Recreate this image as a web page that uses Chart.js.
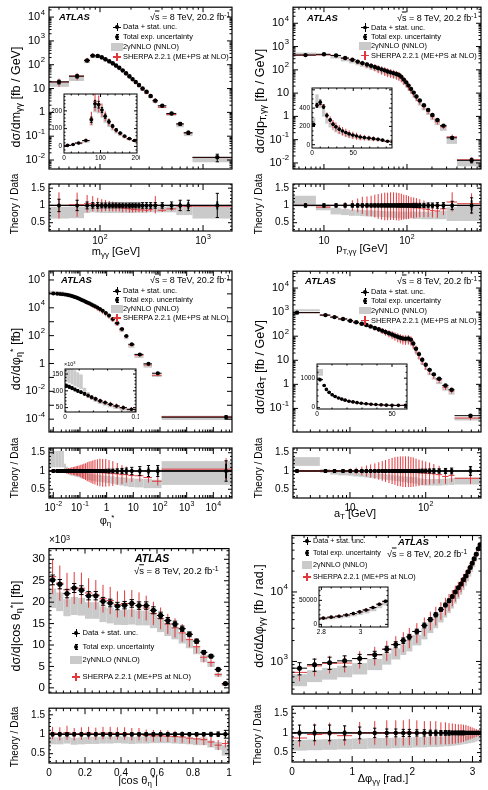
<!DOCTYPE html>
<html>
<head>
<meta charset="utf-8">
<title>ATLAS diphoton differential cross sections</title>
<script src="https://cdn.jsdelivr.net/npm/chart.js@4.4.1/dist/chart.umd.min.js"></script>
<style>
  body { margin: 0; background: #fff; }
  #fig { position: relative; width: 488px; height: 790px; overflow: hidden; background: #fff;
         font-family: "Liberation Sans", Arial, Helvetica, sans-serif; color: #000; }
  #fig canvas { position: absolute; }
  .t { position: absolute; white-space: nowrap; line-height: 1; }
  .t sub { font-size: 72%; vertical-align: -0.3em; line-height: 0; }
  .t sup { font-size: 72%; vertical-align: 0.45em; line-height: 0; }
  .atl { font-weight: bold; font-style: italic; }
  .mk { position: absolute; }
</style>
</head>
<body>
<div id="fig"></div>
<script>
// m_yy
const mggEdges = [0, 20, 30, 50, 70, 80, 90, 100, 108, 118, 128, 138, 148, 160, 172, 186, 200, 214, 230, 248, 270, 296, 324, 364, 440, 550, 650, 790, 1960];
const mggData = [6, 11, 19, 33, 150, 240, 235, 205, 170, 140, 115, 93, 75, 58, 44, 33, 25, 19, 14, 10, 7.3, 4.9, 3.1, 1.9, 0.9, 0.33, 0.14, 0.013];
const mggStat = [0.05, 0.04, 0.03, 0.03, 0.02, 0.015, 0.015, 0.015, 0.015, 0.015, 0.015, 0.02, 0.02, 0.02, 0.02, 0.02, 0.025, 0.025, 0.03, 0.03, 0.035, 0.04, 0.045, 0.05, 0.06, 0.08, 0.1, 0.12];
const mggTot = [0.2, 0.2, 0.18, 0.15, 0.1, 0.08, 0.08, 0.07, 0.07, 0.07, 0.07, 0.07, 0.07, 0.07, 0.07, 0.07, 0.07, 0.07, 0.07, 0.08, 0.08, 0.08, 0.08, 0.08, 0.1, 0.15, 0.15, 0.35];
const mggNnloLo = [0.65, 0.65, 0.62, 0.63, 0.78, 0.8, 0.79, 0.78, 0.78, 0.78, 0.78, 0.78, 0.78, 0.78, 0.78, 0.78, 0.78, 0.79, 0.79, 0.79, 0.79, 0.8, 0.8, 0.8, 0.8, 0.72, 0.72, 0.62];
const mggNnloHi = [0.95, 0.95, 0.96, 0.97, 0.98, 1.0, 0.98, 0.97, 0.97, 0.97, 0.97, 0.97, 0.97, 0.97, 0.97, 0.97, 0.97, 0.97, 0.97, 0.97, 0.97, 0.97, 0.97, 0.97, 0.98, 0.98, 0.98, 0.98];
const mggSherpa = [1, 1, 1.0, 1.02, 1.05, 1.05, 1.02, 1.0, 1.0, 0.98, 0.97, 0.96, 0.95, 0.93, 0.92, 0.9, 0.88, 0.88, 0.87, 0.87, 0.86, 0.88, 1.02, 0.86, 0.9, 0.98, 0.97, 0.98];
const mggSherpaErr = [0.3, 0.3, 0.38, 0.35, 0.25, 0.22, 0.2, 0.18, 0.16, 0.15, 0.14, 0.13, 0.12, 0.12, 0.1, 0.1, 0.08, 0.08, 0.07, 0.07, 0.06, 0.06, 0.25, 0.05, 0.06, 0.15, 0.1, 0.03];

// pT,yy
const pttEdges = [0, 4, 8, 12, 16, 20, 24, 27, 31, 35, 39, 43, 47, 52, 56, 61, 66, 72, 77, 83, 88, 95, 101, 108, 116, 125, 135, 150, 170, 190, 215, 250, 300, 400, 800];
const pttData = [220, 430, 465, 415, 320, 270, 225, 195, 170, 150, 133, 118, 105, 95, 85, 78, 72, 66, 60, 50, 38, 29, 21, 15, 10.5, 7.2, 4.8, 3.0, 1.9, 1.15, 0.7, 0.4, 0.12, 0.013];
const pttStat = [0.03, 0.02, 0.02, 0.02, 0.02, 0.02, 0.02, 0.02, 0.02, 0.02, 0.02, 0.02, 0.02, 0.02, 0.02, 0.02, 0.02, 0.02, 0.02, 0.02, 0.025, 0.025, 0.03, 0.03, 0.03, 0.035, 0.035, 0.04, 0.045, 0.05, 0.06, 0.07, 0.08, 0.15];
const pttTot = [0.06, 0.05, 0.05, 0.05, 0.05, 0.05, 0.05, 0.05, 0.05, 0.05, 0.05, 0.05, 0.05, 0.05, 0.05, 0.05, 0.05, 0.05, 0.05, 0.05, 0.05, 0.05, 0.05, 0.05, 0.06, 0.06, 0.06, 0.06, 0.07, 0.07, 0.08, 0.08, 0.12, 0.22];
const pttNnloLo = [1.0, 0.97, 0.86, 0.74, 0.72, 0.7, 0.7, 0.69, 0.68, 0.68, 0.67, 0.67, 0.66, 0.66, 0.65, 0.65, 0.64, 0.64, 0.63, 0.63, 0.62, 0.62, 0.62, 0.62, 0.61, 0.61, 0.61, 0.6, 0.6, 0.6, 0.6, 0.6, 0.55, 0.55];
const pttNnloHi = [1.35, 1.28, 1.02, 0.93, 0.9, 0.88, 0.88, 0.87, 0.86, 0.86, 0.85, 0.85, 0.84, 0.84, 0.83, 0.83, 0.83, 0.82, 0.82, 0.82, 0.82, 0.82, 0.82, 0.82, 0.82, 0.82, 0.82, 0.82, 0.82, 0.82, 0.83, 0.85, 0.95, 1.0];
const pttSherpa = [1.0, 1.0, 0.95, 1.0, 1.0, 1.0, 1.0, 1.0, 0.98, 0.98, 0.98, 0.97, 0.97, 0.97, 0.97, 0.98, 0.98, 0.97, 0.96, 0.96, 0.95, 0.95, 0.94, 0.94, 0.93, 0.93, 0.92, 0.9, 0.88, 0.85, 0.84, 0.9, 1.1, 1.05];
const pttSherpaErr = [0.05, 0.03, 0.03, 0.06, 0.1, 0.15, 0.2, 0.25, 0.28, 0.3, 0.33, 0.36, 0.38, 0.4, 0.4, 0.4, 0.4, 0.4, 0.4, 0.38, 0.36, 0.35, 0.33, 0.3, 0.3, 0.28, 0.26, 0.24, 0.22, 0.2, 0.2, 0.18, 0.28, 0.3];

// phi*_eta
const phiEdges = [0, 0.004, 0.008, 0.012, 0.016, 0.02, 0.025, 0.03, 0.035, 0.04, 0.046, 0.053, 0.06, 0.068, 0.077, 0.087, 0.1, 0.115, 0.13, 0.15, 0.175, 0.2, 0.24, 0.28, 0.33, 0.4, 0.5, 0.62, 0.8, 1.05, 1.4, 2.0, 3.0, 4.5, 6.5, 11, 24, 50, 115, 60000];
const phiData = [115000, 112000, 108000, 104000, 100000, 96000, 91000, 86000, 81000, 76000, 70000, 65000, 60000, 55000, 50000, 45000, 40000, 35500, 31500, 27500, 24000, 21000, 18000, 15500, 13000, 10500, 8300, 6200, 4300, 2800, 1600, 800, 300, 95, 24, 4.5, 0.95, 0.2, 1.4e-4];
const phiStat = [0.02, 0.02, 0.02, 0.02, 0.02, 0.02, 0.02, 0.02, 0.02, 0.02, 0.02, 0.02, 0.02, 0.02, 0.02, 0.02, 0.02, 0.02, 0.02, 0.02, 0.02, 0.02, 0.02, 0.02, 0.02, 0.02, 0.02, 0.02, 0.02, 0.02, 0.025, 0.03, 0.04, 0.05, 0.06, 0.08, 0.1, 0.12, 0.2];
const phiTot = [0.04, 0.04, 0.04, 0.04, 0.04, 0.04, 0.04, 0.04, 0.04, 0.04, 0.04, 0.04, 0.04, 0.04, 0.04, 0.04, 0.04, 0.04, 0.04, 0.04, 0.04, 0.04, 0.04, 0.04, 0.04, 0.04, 0.04, 0.04, 0.045, 0.05, 0.05, 0.06, 0.07, 0.08, 0.1, 0.12, 0.15, 0.15, 0.28];
const phiNnloLo = [1.1, 1.1, 1.1, 1.1, 1.1, 1.1, 0.95, 0.92, 0.9, 0.88, 0.87, 0.86, 0.85, 0.84, 0.83, 0.82, 0.8, 0.79, 0.78, 0.77, 0.76, 0.75, 0.74, 0.73, 0.72, 0.71, 0.7, 0.69, 0.68, 0.67, 0.65, 0.63, 0.6, 0.58, 0.56, 0.55, 0.53, 0.53, 0.62];
const phiNnloHi = [1.55, 1.55, 1.55, 1.55, 1.55, 1.55, 1.2, 1.12, 1.08, 1.06, 1.04, 1.03, 1.02, 1.01, 1.0, 0.99, 0.98, 0.97, 0.96, 0.95, 0.94, 0.93, 0.92, 0.91, 0.9, 0.9, 0.89, 0.88, 0.87, 0.86, 0.85, 0.84, 0.83, 0.82, 0.8, 0.79, 0.78, 0.76, 1.27];
const phiSherpa = [1, 1, 1, 1, 1, 1, 1, 1, 1, 1, 1, 1, 1, 1, 1, 1, 1, 0.99, 0.99, 0.98, 0.98, 0.98, 0.97, 0.97, 0.97, 0.96, 0.96, 0.95, 0.95, 0.94, 0.93, 0.92, 0.9, 0.9, 0.88, 0.87, 0.82, 0.72, 1.05];
const phiSherpaErr = [0.03, 0.03, 0.04, 0.04, 0.05, 0.05, 0.06, 0.07, 0.08, 0.09, 0.1, 0.11, 0.12, 0.13, 0.14, 0.15, 0.17, 0.19, 0.21, 0.23, 0.26, 0.28, 0.3, 0.32, 0.34, 0.36, 0.38, 0.38, 0.38, 0.36, 0.34, 0.3, 0.26, 0.22, 0.18, 0.16, 0.14, 0.12, 0.3];

// a_T
const atEdges = [0, 4, 5.5, 7, 9.2, 11, 13.2, 15.5, 17.5, 20, 22.6, 25.4, 28, 31, 34.5, 37.5, 41, 44.5, 48, 52, 56.5, 61.5, 66, 71, 78, 85, 95, 105, 120, 136, 165, 200, 240, 540];
const atData = [950, 750, 620, 520, 440, 380, 330, 290, 255, 220, 195, 170, 150, 132, 118, 105, 95, 86, 80, 78, 80, 72, 50, 30, 18, 10.5, 6.5, 4.0, 2.6, 1.7, 0.9, 0.6, 0.05];
const atStat = [0.015, 0.015, 0.015, 0.015, 0.015, 0.015, 0.015, 0.015, 0.015, 0.015, 0.015, 0.015, 0.015, 0.015, 0.015, 0.015, 0.015, 0.015, 0.015, 0.015, 0.02, 0.02, 0.02, 0.025, 0.03, 0.03, 0.035, 0.04, 0.045, 0.05, 0.06, 0.07, 0.12];
const atTot = [0.04, 0.04, 0.04, 0.04, 0.04, 0.04, 0.04, 0.04, 0.04, 0.04, 0.04, 0.04, 0.04, 0.04, 0.04, 0.04, 0.04, 0.04, 0.04, 0.04, 0.04, 0.04, 0.04, 0.04, 0.045, 0.05, 0.05, 0.055, 0.06, 0.06, 0.07, 0.08, 0.12];
const atNnloLo = [1.14, 0.95, 0.9, 0.88, 0.87, 0.85, 0.84, 0.82, 0.81, 0.8, 0.79, 0.77, 0.76, 0.75, 0.74, 0.73, 0.72, 0.71, 0.7, 0.69, 0.68, 0.67, 0.66, 0.65, 0.62, 0.61, 0.6, 0.6, 0.6, 0.6, 0.61, 0.62, 0.63];
const atNnloHi = [1.38, 1.05, 1.02, 1.0, 0.99, 0.98, 0.97, 0.96, 0.95, 0.94, 0.93, 0.92, 0.91, 0.9, 0.89, 0.88, 0.87, 0.86, 0.85, 0.85, 0.84, 0.84, 0.83, 0.83, 0.8, 0.79, 0.78, 0.78, 0.78, 0.78, 0.79, 0.8, 0.82];
const atSherpa = [1, 1, 1, 1, 1, 1, 1, 1, 1, 1, 1, 1, 1, 1, 1, 1, 0.99, 0.99, 0.98, 0.98, 0.98, 0.97, 0.97, 0.96, 0.95, 0.95, 0.94, 0.93, 0.92, 0.9, 0.85, 0.88, 0.8];
const atSherpaErr = [0.03, 0.03, 0.04, 0.05, 0.07, 0.09, 0.12, 0.15, 0.18, 0.21, 0.24, 0.27, 0.3, 0.33, 0.36, 0.38, 0.4, 0.41, 0.42, 0.42, 0.42, 0.41, 0.4, 0.38, 0.36, 0.34, 0.32, 0.3, 0.27, 0.24, 0.2, 0.18, 0.15];

// |cos theta*_eta|
const cosEdges = [0, 0.04, 0.08, 0.12, 0.16, 0.2, 0.24, 0.28, 0.32, 0.36, 0.4, 0.44, 0.48, 0.52, 0.56, 0.6, 0.64, 0.68, 0.72, 0.76, 0.8, 0.84, 0.88, 0.92, 0.96, 1.0];
const cosData = [25200, 24200, 22000, 23300, 22800, 21500, 21500, 20200, 19800, 19100, 19300, 19700, 19200, 19200, 18100, 16900, 15700, 14900, 13800, 12500, 10900, 8300, 7400, 4300, 1000];
const cosStat = [0.015, 0.015, 0.015, 0.015, 0.015, 0.015, 0.015, 0.015, 0.015, 0.015, 0.015, 0.015, 0.015, 0.015, 0.015, 0.015, 0.015, 0.015, 0.015, 0.015, 0.015, 0.015, 0.02, 0.025, 0.05];
const cosTot = [0.045, 0.045, 0.045, 0.045, 0.045, 0.045, 0.045, 0.045, 0.045, 0.045, 0.045, 0.045, 0.045, 0.045, 0.045, 0.045, 0.045, 0.045, 0.045, 0.045, 0.045, 0.045, 0.05, 0.06, 0.1];
const cosNnloLo = [0.74, 0.74, 0.76, 0.73, 0.74, 0.75, 0.75, 0.76, 0.76, 0.77, 0.76, 0.75, 0.76, 0.76, 0.77, 0.77, 0.77, 0.76, 0.75, 0.74, 0.72, 0.72, 0.66, 0.6, 0.45];
const cosNnloHi = [0.92, 0.92, 0.94, 0.91, 0.92, 0.93, 0.93, 0.94, 0.94, 0.95, 0.94, 0.93, 0.94, 0.94, 0.95, 0.95, 0.95, 0.94, 0.93, 0.92, 0.9, 0.92, 0.84, 0.8, 0.72];
const cosSherpa = [1.03, 1.01, 1.04, 1.0, 1.02, 1.03, 1.01, 1.03, 1.03, 1.02, 1.02, 1.0, 1.0, 0.97, 0.96, 0.96, 0.95, 0.94, 0.93, 0.9, 0.88, 0.86, 0.8, 0.72, 0.76];
const cosSherpaErr = [0.16, 0.17, 0.18, 0.16, 0.16, 0.16, 0.16, 0.16, 0.16, 0.16, 0.16, 0.16, 0.16, 0.15, 0.15, 0.15, 0.15, 0.15, 0.15, 0.14, 0.14, 0.14, 0.13, 0.13, 0.1];

// delta phi_yy
const dphiEdges = [0, 0.25, 0.5, 0.75, 1, 1.25, 1.5, 1.65, 1.8, 1.9, 2.0, 2.15, 2.25, 2.35, 2.43, 2.52, 2.58, 2.64, 2.69, 2.74, 2.79, 2.83, 2.87, 2.91, 2.945, 2.98, 3.01, 3.045, 3.08, 3.11, 3.1416];
const dphiData = [800, 900, 960, 1020, 1100, 1250, 1500, 1750, 2000, 2250, 2700, 3300, 4000, 4700, 5600, 6500, 7500, 8600, 10000, 11500, 13000, 15000, 17000, 19500, 22500, 26000, 30000, 35000, 42000, 48000];
const dphiStat = [0.08, 0.08, 0.07, 0.07, 0.06, 0.05, 0.05, 0.04, 0.04, 0.04, 0.035, 0.03, 0.03, 0.03, 0.03, 0.025, 0.025, 0.025, 0.02, 0.02, 0.02, 0.02, 0.02, 0.02, 0.02, 0.02, 0.02, 0.02, 0.015, 0.015];
const dphiTot = [0.2, 0.2, 0.2, 0.18, 0.15, 0.12, 0.1, 0.1, 0.09, 0.09, 0.08, 0.08, 0.07, 0.07, 0.06, 0.06, 0.06, 0.05, 0.05, 0.05, 0.05, 0.05, 0.04, 0.04, 0.04, 0.04, 0.04, 0.04, 0.04, 0.04];
const dphiNnloLo = [0.55, 0.56, 0.57, 0.58, 0.59, 0.6, 0.6, 0.61, 0.62, 0.62, 0.63, 0.63, 0.64, 0.64, 0.65, 0.66, 0.66, 0.67, 0.68, 0.69, 0.7, 0.71, 0.72, 0.73, 0.74, 0.75, 0.76, 0.78, 0.8, 0.82];
const dphiNnloHi = [0.82, 0.83, 0.84, 0.85, 0.86, 0.87, 0.87, 0.88, 0.88, 0.89, 0.89, 0.9, 0.9, 0.91, 0.91, 0.92, 0.92, 0.93, 0.93, 0.94, 0.94, 0.95, 0.95, 0.96, 0.96, 0.97, 0.97, 0.98, 0.99, 1.0];
const dphiSherpa = [0.87, 0.96, 0.98, 0.93, 1, 1, 1, 1, 1, 1.02, 1, 1, 1, 1, 0.99, 0.99, 0.98, 0.98, 0.98, 0.98, 0.99, 0.99, 1, 1, 1, 1, 1, 1, 1, 1];
const dphiSherpaErr = [0.22, 0.28, 0.28, 0.25, 0.28, 0.3, 0.32, 0.32, 0.32, 0.33, 0.32, 0.3, 0.3, 0.3, 0.28, 0.28, 0.27, 0.26, 0.25, 0.24, 0.23, 0.22, 0.2, 0.18, 0.16, 0.14, 0.12, 0.1, 0.08, 0.06];

const GREY = '#cacaca', RED = '#e0383c';
const FONT = '"Liberation Sans", Arial, Helvetica, sans-serif';
const fig = document.getElementById('fig');

function series(edges, vals, stat, tot, lo, hi, shp, she) {
    return { edges, vals, stat, tot, lo, hi, shp, she };
}
const mgg = series(mggEdges, mggData, mggStat, mggTot, mggNnloLo, mggNnloHi, mggSherpa, mggSherpaErr);
const ptt = series(pttEdges, pttData, pttStat, pttTot, pttNnloLo, pttNnloHi, pttSherpa, pttSherpaErr);
const phi = series(phiEdges, phiData, phiStat, phiTot, phiNnloLo, phiNnloHi, phiSherpa, phiSherpaErr);
const at = series(atEdges, atData, atStat, atTot, atNnloLo, atNnloHi, atSherpa, atSherpaErr);
const cos = series(cosEdges, cosData, cosStat, cosTot, cosNnloLo, cosNnloHi, cosSherpa, cosSherpaErr);
const dphi = series(dphiEdges, dphiData, dphiStat, dphiTot, dphiNnloLo, dphiNnloHi, dphiSherpa, dphiSherpaErr);

// tick positions
function logTicks(min, max, minors) {
    const major = [], minor = [];
    for (let e = Math.floor(Math.log10(min)); e <= Math.ceil(Math.log10(max)); e++) {
        const p = Math.pow(10, e);
        major.push(p);
        if (minors) for (let k = 2; k < 10; k++) minor.push(k * p);
    }
    return { major, minor };
}
function linTicks(min, max, step, sub) {
    const major = [], minor = [], s2 = step / sub;
    for (let k = Math.ceil(min / s2 - 1e-9); k * s2 <= max + 1e-9; k++) {
        const v = +(k * s2).toFixed(10);
        if (k % sub === 0) major.push(v); else minor.push(v);
    }
    return { major, minor };
}
function decLabels(lo, hi, step) {
    const out = [];
    for (let e = lo; e <= hi; e += (step || 1)) out.push([Math.pow(10, e), e === 0 ? '1' : e === 1 ? '10' : '10^' + e]);
    return out;
}

function line(ctx, x0, y0, x1, y1) {
    ctx.beginPath(); ctx.moveTo(x0, y0); ctx.lineTo(x1, y1); ctx.stroke();
}
function drawLabel(ctx, s, x, y, fs, align) {
    let base = s, ex = '';
    const k = s.indexOf('^');
    if (k >= 0) { base = s.slice(0, k); ex = s.slice(k + 1); }
    const fe = fs * 0.7;
    ctx.font = fs + 'px ' + FONT;
    const wb = ctx.measureText(base).width;
    ctx.font = fe + 'px ' + FONT;
    const we = ex ? ctx.measureText(ex).width + 0.5 : 0;
    const w = wb + we;
    const x0 = align === 'right' ? x - w : align === 'center' ? x - w / 2 : x;
    ctx.textBaseline = 'middle'; ctx.textAlign = 'left'; ctx.fillStyle = '#000';
    ctx.font = fs + 'px ' + FONT;
    ctx.fillText(base, x0, y);
    if (ex) { ctx.font = fe + 'px ' + FONT; ctx.fillText(ex, x0 + wb + 0.5, y - fs * 0.42); }
}

// draws NNLO boxes, SHERPA crosses, data error bars, frame, inner ticks and tick labels
function hep(o) {
    return {
        id: 'hep',
        beforeDatasetsDraw(chart) {
            const { ctx, chartArea: a, scales: { x: sx, y: sy } } = chart;
            const d = o.d, rt = !!o.ratio, n = d.vals.length;
            const X = v => sx.getPixelForValue(v), Y = v => sy.getPixelForValue(v);
            ctx.save();
            if (o.inset) { ctx.fillStyle = '#fff'; ctx.fillRect(a.left, a.top, a.right - a.left, a.bottom - a.top); }
            ctx.beginPath(); ctx.rect(a.left, a.top, a.right - a.left, a.bottom - a.top); ctx.clip();
            ctx.fillStyle = GREY;
            for (let i = 0; i < n; i++) {
                const f = rt ? 1 : d.vals[i];
                const x0 = X(d.edges[i]), x1 = X(d.edges[i + 1]);
                const y0 = Y(d.hi[i] * f), y1 = Y(d.lo[i] * f);
                ctx.fillRect(x0, y0, x1 - x0, y1 - y0);
            }
            if (rt) { ctx.strokeStyle = '#000'; ctx.lineWidth = 1.3; line(ctx, a.left, Y(1), a.right, Y(1)); }
            ctx.strokeStyle = RED; ctx.lineWidth = 1;
            for (let i = 0; i < n; i++) {
                const f = rt ? 1 : d.vals[i];
                const x0 = X(d.edges[i]), x1 = X(d.edges[i + 1]), xc = X((d.edges[i] + d.edges[i + 1]) / 2);
                const c = d.shp[i] * f, e = d.she[i] * f;
                line(ctx, x0, Y(c), x1, Y(c));
                line(ctx, xc, Y(c - e), xc, Y(c + e));
            }
            ctx.strokeStyle = '#000';
            const cap = o.cap || 1.6;
            for (let i = 0; i < n; i++) {
                const v = rt ? 1 : d.vals[i];
                const x0 = X(d.edges[i]), x1 = X(d.edges[i + 1]), xc = X((d.edges[i] + d.edges[i + 1]) / 2);
                const yc = Y(v), t0 = Y(v * (1 - d.tot[i])), t1 = Y(v * (1 + d.tot[i]));
                ctx.lineWidth = 1;
                line(ctx, x0, yc, x1, yc);
                line(ctx, xc, t0, xc, t1);
                line(ctx, xc - cap, t0, xc + cap, t0);
                line(ctx, xc - cap, t1, xc + cap, t1);
                ctx.lineWidth = 1.8;
                line(ctx, xc, Y(v * (1 - d.stat[i])), xc, Y(v * (1 + d.stat[i])));
            }
            ctx.restore();
        },
        afterDraw(chart) {
            const { ctx, chartArea: a, scales: { x: sx, y: sy } } = chart;
            const tl = o.tl || [5, 2.5, 5, 2.5];
            ctx.save();
            ctx.strokeStyle = '#000';
            ctx.lineWidth = 1;
            const xt = (vals, len) => vals.forEach(v => {
                const p = sx.getPixelForValue(v);
                if (p > a.left + 0.5 && p < a.right - 0.5) { line(ctx, p, a.bottom, p, a.bottom - len); line(ctx, p, a.top, p, a.top + len); }
            });
            const yt = (vals, len) => vals.forEach(v => {
                const p = sy.getPixelForValue(v);
                if (p > a.top + 0.5 && p < a.bottom - 0.5) { line(ctx, a.left, p, a.left + len, p); line(ctx, a.right, p, a.right - len, p); }
            });
            xt(o.xt.major, tl[0]); xt(o.xt.minor, tl[1]);
            yt(o.yt.major, tl[2]); yt(o.yt.minor, tl[3]);
            ctx.lineWidth = o.fw || 1.2;
            ctx.strokeRect(a.left, a.top, a.right - a.left, a.bottom - a.top);
            const fs = o.fs || 11, g = o.gap || [5, 4];
            (o.xl || []).forEach(([v, s]) => drawLabel(ctx, s, sx.getPixelForValue(v), a.bottom + g[0] + fs / 2, fs, 'center'));
            (o.yl || []).forEach(([v, s]) => drawLabel(ctx, s, a.left - g[1], sy.getPixelForValue(v), fs, 'right'));
            ctx.restore();
        }
    };
}

function plot(frame, pad, o) {
    const [L, T, R, B] = frame;
    const cv = document.createElement('canvas');
    const W = R - L + pad[0] + pad[2], H = B - T + pad[1] + pad[3];
    cv.width = W; cv.height = H;
    Object.assign(cv.style, { left: (L - pad[0]) + 'px', top: (T - pad[1]) + 'px', width: W + 'px', height: H + 'px' });
    fig.appendChild(cv);
    const d = o.d;
    const pts = d.vals.map((v, i) => ({ x: (d.edges[i] + d.edges[i + 1]) / 2, y: o.ratio ? 1 : v }));
    const axis = (type, lim, isX) => ({
        type, min: lim[0], max: lim[1], display: true,
        grid: { display: false, drawTicks: false }, border: { display: false },
        ticks: { display: false },
        afterFit: s => {
            if (isX) s.height = 0; else s.width = 0;
            s.paddingLeft = s.paddingRight = s.paddingTop = s.paddingBottom = 0;
        }
    });
    return new Chart(cv, {
        type: 'scatter',
        data: { datasets: [{ data: pts, pointRadius: o.r || 2.2, pointBackgroundColor: '#000', pointBorderWidth: 0, pointHoverRadius: 0 }] },
        options: {
            responsive: false, animation: false, events: [],
            layout: { padding: { left: pad[0], top: pad[1], right: pad[2], bottom: pad[3] } },
            plugins: { legend: { display: false }, tooltip: { enabled: false } },
            scales: {
                x: axis(o.xlog ? 'logarithmic' : 'linear', o.x, true),
                y: axis(o.ylog ? 'logarithmic' : 'linear', o.y, false)
            }
        },
        plugins: [hep(o)]
    });
}

const MP = [42, 2, 4, 3], RP = [42, 2, 10, 18], IP = [20, 2, 3, 10];
const RTL = [6, 3, 4, 2], ITL = [3, 1.5, 3, 1.5];
const ratioY = lim => ({ y: lim, yt: linTicks(lim[0], lim[1], 0.5, 5), yl: [[0.5, '0.5'], [1, '1'], [1.5, '1.5']] });

// m_yy
plot([49, 7, 232, 169], MP, { d: mgg, xlog: true, ylog: true, x: [32, 1910], y: [0.0042, 26000],
    xt: logTicks(32, 1910, true), yt: logTicks(0.0042, 26000, true), yl: decLabels(-2, 4) });
plot([49, 184, 232, 231], RP, Object.assign({ d: mgg, ratio: true, xlog: true, x: [32, 1910], xt: logTicks(32, 1910, true),
    xl: decLabels(2, 3), tl: RTL, fs: 10, r: 2 }, ratioY([0.26, 1.62])));
// pT,yy
plot([293, 7, 481, 169], MP, { d: ptt, xlog: true, ylog: true, x: [4.24, 779], y: [0.0055, 49000],
    xt: logTicks(4.24, 779, true), yt: logTicks(0.0055, 49000, true), yl: decLabels(-2, 4) });
plot([293, 184, 481, 231], RP, Object.assign({ d: ptt, ratio: true, xlog: true, x: [4.24, 779], xt: logTicks(4.24, 779, true),
    xl: decLabels(1, 2), tl: RTL, fs: 10, r: 2 }, ratioY([0.26, 1.62])));
// phi*_eta
plot([49, 271, 232, 432], MP, { d: phi, xlog: true, ylog: true, x: [0.0069, 50000], y: [1.2e-5, 4.4e6],
    xt: logTicks(0.0069, 50000, true), yt: logTicks(1.2e-5, 4.4e6, false), yl: decLabels(-4, 6, 2), r: 2 });
plot([49, 448, 232, 498], RP, Object.assign({ d: phi, ratio: true, xlog: true, x: [0.0069, 50000], xt: logTicks(0.0069, 50000, true),
    xl: decLabels(-2, 4), tl: RTL, fs: 10, r: 2 }, ratioY([0.26, 1.63])));
// a_T
plot([293, 271, 481, 432], MP, { d: at, xlog: true, ylog: true, x: [1.77, 537], y: [0.0105, 50000],
    xt: logTicks(1.77, 537, true), yt: logTicks(0.0105, 50000, true), yl: decLabels(-1, 4) });
plot([293, 448, 481, 498], RP, Object.assign({ d: at, ratio: true, xlog: true, x: [1.77, 537], xt: logTicks(1.77, 537, true),
    xl: decLabels(1, 2), tl: RTL, fs: 10, r: 2 }, ratioY([0.26, 1.63])));
// |cos theta*|
plot([49, 548, 229, 693], MP, { d: cos, x: [0, 1], y: [-1200, 32500],
    xt: linTicks(0, 1, 0.2, 5), yt: linTicks(-1200, 32500, 5000, 5),
    yl: [[0, '0'], [5000, '5'], [10000, '10'], [15000, '15'], [20000, '20'], [25000, '25'], [30000, '30']], fs: 11.5, cap: 2.2, r: 2.6 });
plot([49, 708, 229, 763], RP, Object.assign({ d: cos, ratio: true, x: [0, 1], xt: linTicks(0, 1, 0.2, 5),
    xl: [[0, '0'], [0.2, '0.2'], [0.4, '0.4'], [0.6, '0.6'], [0.8, '0.8'], [1, '1']], tl: RTL, fs: 10, r: 2.2 }, ratioY([0.26, 1.67])));
// delta phi
plot([292, 535, 481, 694], MP, { d: dphi, x: [0, Math.PI], ylog: true, y: [340, 65000],
    xt: linTicks(0, Math.PI, 1, 5), yt: logTicks(340, 65000, true), yl: decLabels(3, 4), fs: 11.5, cap: 2, r: 2.5 });
plot([292, 706, 481, 762], RP, Object.assign({ d: dphi, ratio: true, x: [0, Math.PI], xt: linTicks(0, Math.PI, 1, 5),
    xl: [[0, '0'], [1, '1'], [2, '2'], [3, '3']], tl: RTL, fs: 10, r: 2.2 }, ratioY([0.26, 1.68])));

// insets
plot([64, 94, 137, 153], IP, { d: mgg, inset: true, x: [0, 200], y: [-37, 295], xt: linTicks(0, 200, 100, 5), yt: linTicks(-37, 295, 100, 5),
    xl: [[0, '0'], [100, '100'], [200, '200']], yl: [[0, '0'], [100, '100'], [200, '200']], fs: 6.5, gap: [2, 2], tl: ITL, fw: 1, r: 1.8, cap: 1.2 });
plot([312, 88, 392, 148], IP, { d: ptt, inset: true, x: [0, 97], y: [-36, 620], xt: linTicks(0, 97, 50, 5), yt: linTicks(-36, 620, 200, 4),
    xl: [[0, '0'], [50, '50']], yl: [[0, '0'], [200, '200'], [400, '400']], fs: 6.5, gap: [2, 2], tl: ITL, fw: 1, r: 1.8, cap: 1.2 });
plot([65, 369, 136, 412], IP, { d: phi, inset: true, x: [0, 0.1], y: [37000, 165000], xt: linTicks(0, 0.1, 0.1, 5), yt: linTicks(37000, 165000, 50000, 5),
    xl: [[0, '0'], [0.1, '0.1']], yl: [[50000, '50'], [100000, '100'], [150000, '150']], fs: 6.5, gap: [2, 2], tl: ITL, fw: 1, r: 1.8, cap: 1.2 });
plot([317, 364, 407, 409], IP, { d: at, inset: true, x: [0, 60], y: [-45, 1480], xt: linTicks(0, 60, 50, 5), yt: linTicks(-45, 1480, 1000, 5),
    xl: [[0, '0'], [50, '50']], yl: [[0, '0'], [1000, '1000']], fs: 6.5, gap: [2, 2], tl: ITL, fw: 1, r: 1.8, cap: 1.2 });
plot([319, 587, 388, 627], IP, { d: dphi, inset: true, x: [2.788, 3.139], y: [-5500, 77800], xt: linTicks(2.788, 3.139, 0.2, 4), yt: linTicks(-5500, 77800, 50000, 5),
    xl: [[2.8, '2.8'], [3, '3']], yl: [[0, '0'], [50000, '50000']], fs: 6.5, gap: [2, 2], tl: ITL, fw: 1, r: 1.8, cap: 1.2 });

// text
function txt(html, x, y, fs, anchor, cls, rot) {
    const e = document.createElement('div');
    e.className = 't' + (cls ? ' ' + cls : '');
    e.innerHTML = html;
    e.style.left = x + 'px'; e.style.top = y + 'px'; e.style.fontSize = fs + 'px';
    const tx = anchor === 'l' ? '0' : anchor === 'r' ? '-100%' : '-50%';
    e.style.transform = 'translate(' + tx + ',-50%)' + (rot ? ' rotate(-90deg)' : '');
    fig.appendChild(e);
}
function box(x, y, w, h, c, round) {
    const e = document.createElement('div');
    e.className = 'mk';
    Object.assign(e.style, { left: x + 'px', top: y + 'px', width: w + 'px', height: h + 'px', background: c });
    if (round) e.style.borderRadius = '50%';
    fig.appendChild(e);
}
function legend(x, ys, fs, tx) {
    const s = fs / 8, h = 4.5 * s, r = 2.1 * s;
    let y = ys[0];
    box(x - h, y - 0.5, 2 * h, 1, '#000'); box(x - 0.5, y - h, 1, 2 * h, '#000'); box(x - r, y - r, 2 * r, 2 * r, '#000', true);
    txt('Data + stat. unc.', x + tx, y, fs, 'l');
    y = ys[1];
    box(x - 0.5, y - 0.8 * h, 1, 1.6 * h, '#000'); box(x - 1.5, y - 0.8 * h, 3, 1, '#000'); box(x - 1.5, y + 0.8 * h - 1, 3, 1, '#000');
    box(x - r, y - r, 2 * r, 2 * r, '#000', true);
    txt('Total exp. uncertainty', x + tx, y, fs, 'l');
    y = ys[2];
    box(x - 6 * s, y - 4 * s, 12 * s, 8 * s, GREY);
    txt('2γNNLO (NNLO)', x + tx, y, fs, 'l');
    y = ys[3];
    box(x - h, y - 0.6, 2 * h, 1.2, RED); box(x - 0.6, y - h, 1.2, 2 * h, RED);
    txt('SHERPA 2.2.1 (ME+PS at NLO)', x + tx, y, fs, 'l');
}
const SQS = '√<span style="text-decoration:overline">s</span> = 8 TeV, 20.2 fb<sup>-1</sup>';

txt('ATLAS', 59, 17, 9.5, 'l', 'atl'); txt(SQS, 230, 17, 9, 'r');
legend(117, [27, 37, 47, 57], 7.4, 6);
txt('ATLAS', 307, 18, 9.5, 'l', 'atl'); txt(SQS, 477, 18, 9, 'r');
legend(365, [27.5, 37, 46, 55.5], 7.4, 6);
txt('ATLAS', 61, 280, 9.5, 'l', 'atl'); txt(SQS, 230, 280, 9, 'r');
legend(117, [291, 300, 309, 318], 7.4, 6);
txt('ATLAS', 305, 281, 9.5, 'l', 'atl'); txt(SQS, 477, 281, 9, 'r');
legend(365, [292, 301, 310.5, 320.5], 7.4, 6);
txt('ATLAS', 135, 558, 10.5, 'l', 'atl'); txt(SQS, 134, 571, 9.5, 'l');
legend(76, [633, 647, 660, 677], 7.6, 6.5);
txt('ATLAS', 398, 542, 9.5, 'l', 'atl'); txt(SQS, 387, 554, 9, 'l');
legend(307, [541, 553, 565, 577], 7.2, 6);
txt('×10<sup>3</sup>', 49, 540, 10, 'l');
txt('×10<sup>3</sup>', 64, 365, 5.5, 'l');

// axis titles
txt('dσ/dm<sub>γγ</sub> [fb / GeV]', 16, 97, 12.5, 'c', '', true);
txt('Theory / Data', 15, 204, 10, 'c', '', true);
txt('m<sub>γγ</sub> [GeV]', 116, 251, 11, 'c');
txt('dσ/dp<sub>T,γγ</sub> [fb / GeV]', 260, 101, 12.5, 'c', '', true);
txt('Theory / Data', 259, 204, 10, 'c', '', true);
txt('p<sub>T,γγ</sub> [GeV]', 362, 248, 11, 'c');
txt('dσ/dφ<sub>η</sub><sup>*</sup> [fb]', 16, 359, 12.5, 'c', '', true);
txt('Theory / Data', 15, 468, 10, 'c', '', true);
txt('φ<sub>η</sub><sup>*</sup>', 107, 520, 11, 'c');
txt('dσ/da<sub>T</sub> [fb / GeV]', 260, 367, 12.5, 'c', '', true);
txt('Theory / Data', 259, 468, 10, 'c', '', true);
txt('a<sub>T</sub> [GeV]', 355, 513, 11, 'c');
txt('dσ/d|cos θ<sub>η</sub><sup>*</sup>| [fb]', 16, 626, 12.5, 'c', '', true);
txt('Theory / Data', 15, 737, 10, 'c', '', true);
txt('|cos θ<sub>η</sub><sup>*</sup>|', 138, 780, 11, 'c');
txt('dσ/dΔφ<sub>γγ</sub> [fb / rad.]', 259, 616, 12.5, 'c', '', true);
txt('Theory / Data', 258, 735, 10, 'c', '', true);
txt('Δφ<sub>γγ</sub> [rad.]', 383, 778, 11, 'c');
</script>
</body>
</html>
